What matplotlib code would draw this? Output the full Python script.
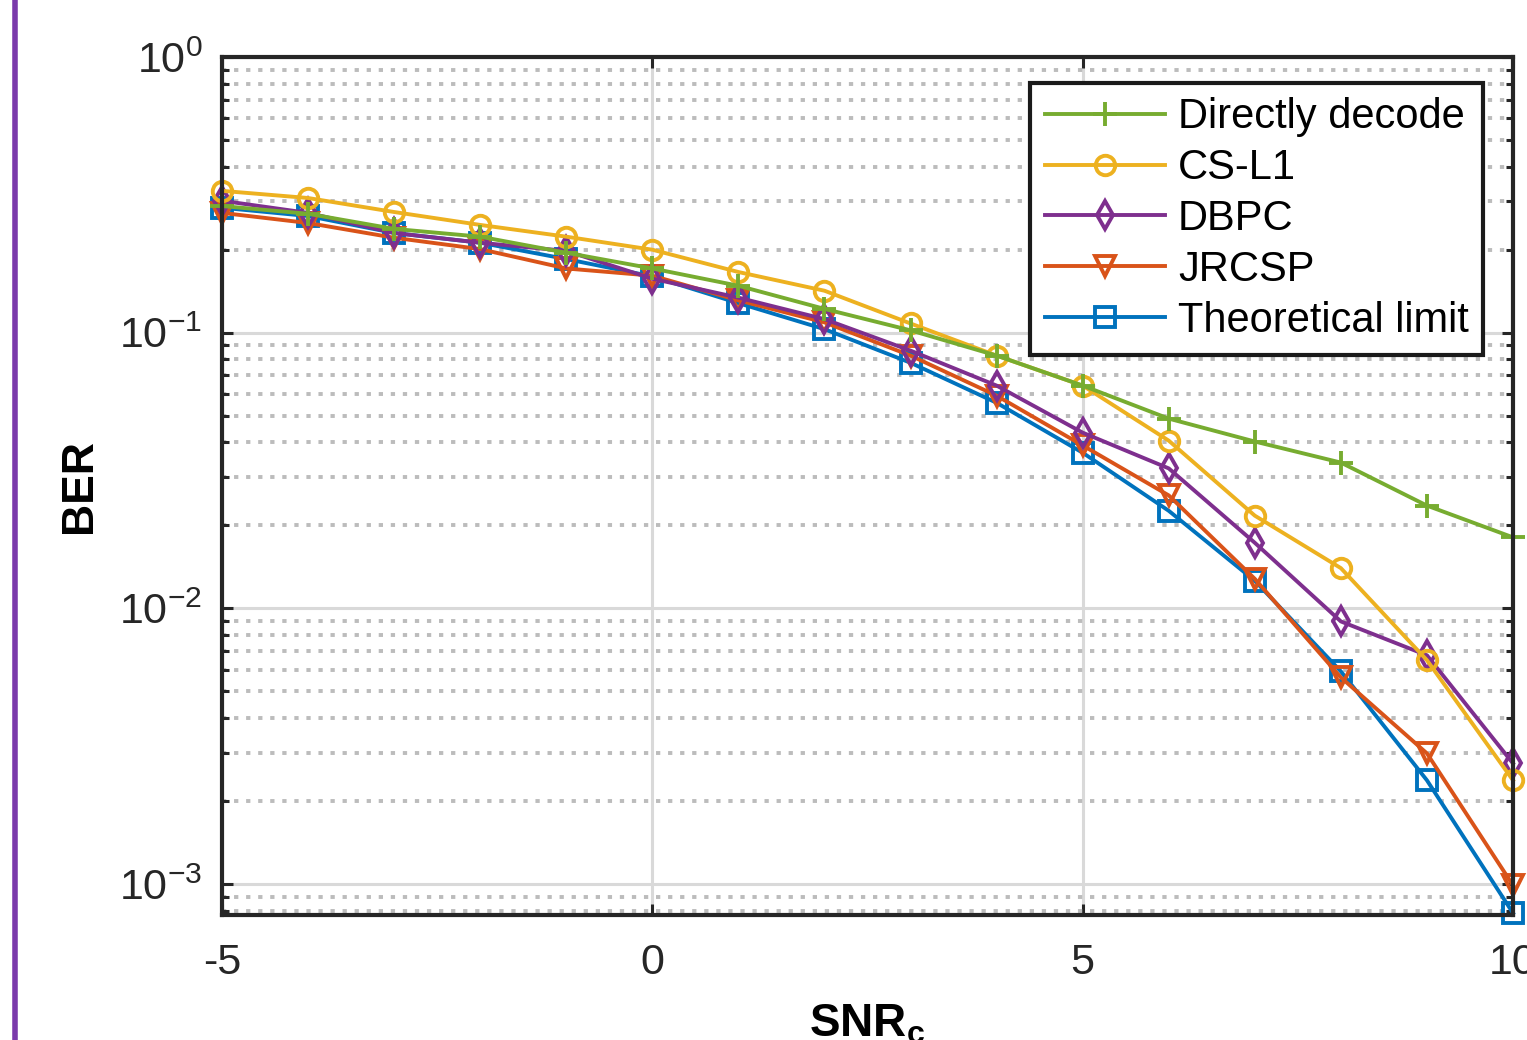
import numpy as np
import matplotlib
matplotlib.use("Agg")
import matplotlib.pyplot as plt
from matplotlib.lines import Line2D
from matplotlib.ticker import LogLocator, NullFormatter

plt.rcParams['font.family'] = ['Liberation Sans', 'DejaVu Sans']
plt.rcParams['mathtext.fontset'] = 'custom'
plt.rcParams['mathtext.rm'] = 'Liberation Sans'
plt.rcParams['mathtext.bf'] = 'Liberation Sans:bold'
plt.rcParams['mathtext.it'] = 'Liberation Sans:italic'
plt.rcParams['axes.unicode_minus'] = False

# SNR_c values (dB)
snr = [-5, -4, -3, -2, -1, 0, 1, 2, 3, 4, 5, 6, 7, 8, 9, 10]

# BER
ber_direct = [0.288, 0.270, 0.238, 0.223, 0.195, 0.171, 0.148, 0.122, 0.102, 0.0826,
              0.0643, 0.0488, 0.0403, 0.0338, 0.0236, 0.0181]
ber_csl1 = [0.327, 0.308, 0.274, 0.246, 0.223, 0.200, 0.166, 0.142, 0.108, 0.0826,
            0.0643, 0.0406, 0.0217, 0.0140, 0.00649, 0.00238]
ber_dbpc = [0.301, 0.272, 0.230, 0.212, 0.198, 0.157, 0.134, 0.112, 0.0861, 0.0643,
            0.0434, 0.0322, 0.0173, 0.00897, 0.00676, 0.00274]
ber_jrcsp = [0.272, 0.250, 0.221, 0.201, 0.171, 0.161, 0.131, 0.109, 0.0826, 0.0591,
             0.0390, 0.0257, 0.0128, 0.00562, 0.00298, 0.00099]
ber_limit = [0.284, 0.265, 0.230, 0.212, 0.185, 0.160, 0.128, 0.103, 0.0778, 0.0557,
             0.0367, 0.0226, 0.0126, 0.00591, 0.00238, 0.000785]

labels = ['Directly decode', 'CS-L1', 'DBPC', 'JRCSP', 'Theoretical limit']
colors = ['#77AC30', '#EDB120', '#7E2F8E', '#D95319', '#0072BD']
markers = ['+', 'o', 'd', 'v', 's']
series = [ber_direct, ber_csl1, ber_dbpc, ber_jrcsp, ber_limit]
zorders = [7, 6, 5, 4, 3]

fig = plt.figure(figsize=(15.27, 10.40), dpi=100)
ax = fig.add_axes([222 / 1527, 125 / 1040, 1291 / 1527, 858 / 1040])

handles = []
for y, lab, c, m, z in zip(series, labels, colors, markers, zorders):
    ms = 17 if m == '+' else 14
    h, = ax.plot(snr, y, color=c, marker=m, markersize=ms, markerfacecolor='none',
                 markeredgecolor=c, markeredgewidth=2.8, linewidth=2.8, label=lab,
                 zorder=z, clip_on=False)
    handles.append(h)

ax.set_yscale('log')
ax.set_xlim(-5, 10)
ax.set_ylim(10 ** -3.112, 1)
ax.set_xticks([-5, 0, 5, 10])
ax.set_xticklabels(['-5', '0', '5', '10'])
ax.yaxis.set_major_locator(LogLocator(base=10, numticks=10))
ax.yaxis.set_minor_locator(LogLocator(base=10, subs=np.arange(2, 10), numticks=20))
ax.yaxis.set_minor_formatter(NullFormatter())

ax.grid(True, which='major', axis='both', color='#d9d9d9', linewidth=2.2, linestyle='-', zorder=0)
ax.grid(True, which='minor', axis='y', color='#bcbcbc', linewidth=2.8,
        linestyle=(0, (1.1, 2.0)), zorder=0)
ax.set_axisbelow(True)

ax.tick_params(axis='x', which='major', direction='in', length=8, width=2.2,
               top=True, labelsize=31, colors='#262626', pad=20)
ax.tick_params(axis='y', which='major', direction='in', length=8, width=2.2,
               right=True, labelsize=31, colors='#262626', pad=14)
ax.tick_params(axis='y', which='minor', direction='in', length=5, width=2.2,
               right=True, left=True, colors='#262626')
for s in ax.spines.values():
    s.set_linewidth(3)
    s.set_color('#262626')
    s.set_zorder(10)

ax.set_ylabel('BER', fontsize=32, fontweight='bold', labelpad=14)
ax.set_xlabel(r'SNR$_\mathbf{c}$', fontsize=33, fontweight='bold', labelpad=14)

leg = ax.legend(handles=handles, loc='upper right', bbox_to_anchor=(0.977, 0.970),
                borderaxespad=0, fontsize=30, handlelength=2.9, handletextpad=0.3,
                labelspacing=0.26, borderpad=0.35, fancybox=False, framealpha=1,
                edgecolor='#1a1a1a')
leg.get_frame().set_linewidth(3)
leg.set_zorder(20)

# purple border at the left of the cropped picture
fig.add_artist(Line2D([15 / 1527, 15 / 1527], [0, 1], color='#7B3AAB', linewidth=4,
                      transform=fig.transFigure))

fig.savefig('out.png', dpi=100)
